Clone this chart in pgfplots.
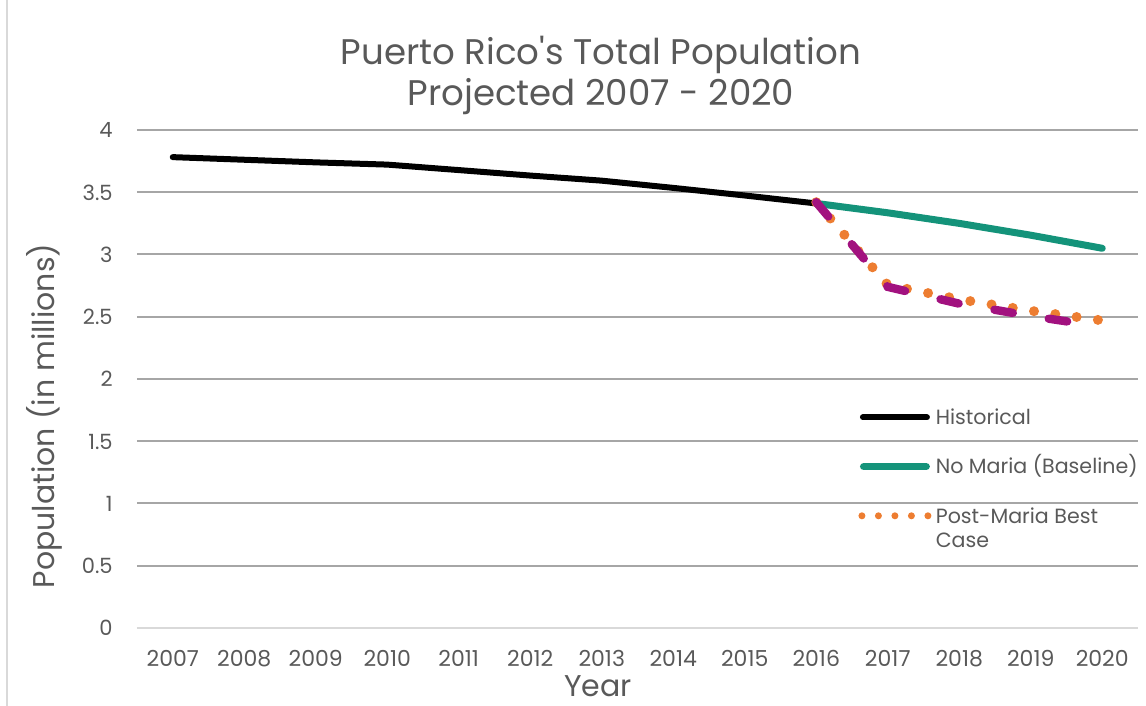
\documentclass[border=0pt]{standalone}
\usepackage{fontspec}
\setmainfont{Poppins}[Ligatures=TeXOff]
\usepackage{pgfplots}
\pgfplotsset{compat=1.18}

\definecolor{txtgray}{HTML}{595959}
\definecolor{gridgray}{HTML}{A6A6A6}
\definecolor{axisgray}{HTML}{D9D9D9}
\definecolor{baseteal}{HTML}{14937A}
\definecolor{bestorange}{HTML}{ED7D31}
\definecolor{worstpurple}{HTML}{A2117F}

\begin{document}
\begin{tikzpicture}
% page = 1146 x 706 px at 0.5pt per px, origin at the plot area's lower left
\useasboundingbox (-68.5pt,-39pt) rectangle (504.5pt,314pt);
\draw[axisgray, line width=0.75pt] (-65pt,-39pt) -- (-65pt,314pt);

\begin{axis}[
    scale only axis,
    width=500.5pt, height=249pt,
    xmin=2006.5, xmax=2020.5,
    ymin=0, ymax=4,
    xtick={2007,2008,...,2020},
    ytick={0.5,1,...,4},
    extra y ticks={0},
    extra y tick style={grid=none},
    ymajorgrids,
    grid style={gridgray, line width=1pt},
    separate axis lines,
    axis x line*=bottom,
    axis y line*=left,
    x axis line style={axisgray, line width=1pt},
    y axis line style={draw=none},
    tick style={draw=none},
    /pgf/number format/assume math mode=true,
    xticklabel style={font=\fontsize{11}{13}\selectfont, text=txtgray,
        /pgf/number format/1000 sep={}, anchor=base, inner sep=0pt, yshift=-19.5pt},
    yticklabel style={font=\fontsize{10.5}{12}\selectfont, text=txtgray,
        anchor=base east, inner sep=0pt, xshift=-12pt, yshift=-4pt},
    legend cell align=left,
    legend style={at={(rel axis cs:0.7203,0.4484)}, anchor=north west,
        draw=none, fill=none, inner sep=0pt, column sep=2.2pt, row sep=0pt,
        font=\fontsize{10.3}{12}\selectfont, text=txtgray,
        nodes={inner sep=0pt, text height=9.8pt, text depth=2.5pt}},
]

% Historical
\addplot[black, line width=3pt, line cap=round, line join=round, forget plot] coordinates {
    (2007,3.782) (2008,3.761) (2009,3.740) (2010,3.722) (2011,3.678)
    (2012,3.634) (2013,3.593) (2014,3.535) (2015,3.474) (2016,3.410)
};

% No Maria (Baseline)
\addplot[baseteal, line width=3.5pt, line cap=round, line join=round, forget plot] coordinates {
    (2016,3.410) (2017,3.335) (2018,3.250) (2019,3.155) (2020,3.050)
};

% Post-Maria Best Case
\addplot[bestorange, line width=5pt, line cap=round, dash pattern=on 0pt off 10.75pt, forget plot] coordinates {
    (2016,3.420) (2017,2.755) (2018,2.640) (2019,2.548) (2020,2.470)
};

% purple dashed scenario (not in the legend)
\addplot[worstpurple, line width=4.2pt, line cap=round, dash pattern=on 9.3pt off 18.2pt, forget plot] coordinates {
    (2016,3.420) (2017,2.740) (2018,2.605) (2019,2.506) (2020,2.420)
};

\addlegendimage{legend image code/.code={\draw[black, line width=3pt, line cap=round] (1.5pt,0pt) -- (33.5pt,0pt);}}
\addlegendentry{Historical}
\addlegendimage{empty legend}
\addlegendentry{}
\addlegendimage{legend image code/.code={\draw[baseteal, line width=3.75pt, line cap=round] (1.9pt,0pt) -- (33.1pt,0pt);}}
\addlegendentry{No Maria (Baseline)}
\addlegendimage{empty legend}
\addlegendentry{}
\addlegendimage{legend image code/.code={\draw[bestorange, line width=3.5pt, line cap=round, dash pattern=on 0pt off 8.25pt] (1.0pt,0pt) -- (34pt,0pt);}}
\addlegendentry{Post-Maria Best}
\addlegendimage{empty legend}
\addlegendentry{Case}
\end{axis}

\node[anchor=base, text=txtgray, font=\fontsize{17.8}{21}\selectfont] at (232pt,281.5pt) {Puerto Rico's Total Population};
\node[anchor=base, text=txtgray, font=\fontsize{17.8}{21}\selectfont] at (232pt,261pt) {Projected 2007 - 2020};
\node[anchor=base, text=txtgray, font=\fontsize{15}{18}\selectfont] at (230.5pt,-34.5pt) {Year};
\node[anchor=base, rotate=90, text=txtgray, font=\fontsize{15}{18}\selectfont] at (-41pt,106pt) {Population (in millions)};
\end{tikzpicture}
\end{document}
